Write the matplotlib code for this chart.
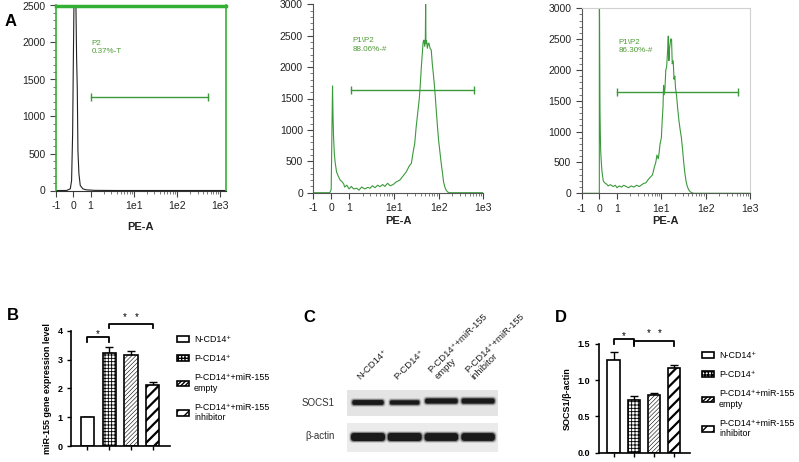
import numpy as np
import matplotlib
matplotlib.use("Agg")
import matplotlib.pyplot as plt
from matplotlib.patches import Patch, FancyBboxPatch, Rectangle
from matplotlib.ticker import MultipleLocator, FixedLocator

plt.rcParams['font.family'] = ['Liberation Sans', 'DejaVu Sans']

W, H = 799, 462

# ---------------- data ----------------
# PE-A axis positions: -1, 0, 1, 1e1, 1e2, 1e3
pe_ticks = [-0.4, 0.0, 0.4, 1.4, 2.4, 3.4]
pe_labels = ['-1', '0', '1', '1e1', '1e2', '1e3']

ctrl_x = [-0.4, -0.15, -0.124, -0.069, -0.039, -0.015, 0.0, 0.015, 0.039, 0.062,
          0.077, 0.093, 0.108, 0.131, 0.162, 0.224, 0.301, 0.5, 1.0, 3.53]
ctrl_y = [0, 0, 9, 22, 135, 763, 1660, 2470, 2490, 2480,
          1800, 1370, 535, 225, 67, 22, 9, 2, 0, 0]

p1_x = [-0.4, -0.03, 0.0, 0.015, 0.03, 0.04, 0.052, 0.07, 0.089, 0.12, 0.163, 0.2, 0.237,
        0.28, 0.3, 0.348, 0.4, 0.45, 0.5, 0.57, 0.62, 0.68, 0.75, 0.82, 0.867, 0.92,
        0.98, 1.04, 1.089, 1.15, 1.2, 1.26, 1.32, 1.385, 1.45, 1.533, 1.6, 1.681, 1.74,
        1.793, 1.83, 1.867, 1.9, 1.941, 1.97, 1.993, 2.015, 2.037, 2.055, 2.074, 2.09,
        2.104, 2.111, 2.118, 2.13, 2.15, 2.17, 2.185, 2.21, 2.237, 2.26, 2.289, 2.32,
        2.348, 2.375, 2.4, 2.43, 2.459, 2.49, 2.511, 2.54, 2.57, 2.6, 2.644, 3.4]
p1_y = [0, 0, 50, 900, 1700, 1250, 900, 620, 480, 330, 255, 200, 180,
        140, 90, 120, 60, 100, 60, 70, 40, 90, 60, 85, 70, 110,
        80, 120, 95, 130, 100, 150, 110, 130, 170, 200, 260, 335, 420,
        470, 640, 785, 1050, 1315, 1500, 1740, 2000, 2220, 2400, 2430, 2330,
        2400, 3000, 2380, 2420, 2300, 2380, 2380, 2300, 2270, 2050, 1850, 1600,
        1315, 1060, 840, 650, 470, 300, 175, 90, 40, 12, 0, 0]

p2_x = [-0.4, 0.0, 0.0, 0.004, 0.008, 0.015, 0.022, 0.03, 0.045, 0.06, 0.089, 0.12,
        0.163, 0.2, 0.25, 0.311, 0.36, 0.4, 0.45, 0.5, 0.55, 0.607, 0.66, 0.72, 0.78,
        0.84, 0.904, 0.96, 1.0, 1.052, 1.1, 1.15, 1.2, 1.24, 1.274, 1.3, 1.33, 1.348,
        1.37, 1.4, 1.42, 1.437, 1.45, 1.465, 1.481, 1.5, 1.519, 1.54, 1.556, 1.57,
        1.585, 1.61, 1.63, 1.645, 1.667, 1.685, 1.704, 1.72, 1.741, 1.765, 1.793,
        1.82, 1.852, 1.88, 1.904, 1.93, 1.956, 1.985, 2.015, 2.05, 2.089, 2.126, 3.4]
p2_y = [0, 0, 3000, 3000, 2350, 1350, 1000, 700, 500, 350, 200, 170,
        150, 120, 140, 110, 130, 90, 120, 100, 130, 110, 90, 120, 100,
        130, 110, 140, 160, 170, 220, 260, 300, 420, 500, 620, 560, 650,
        800, 900, 1200, 1400, 1750, 1600, 1700, 2000, 2050, 2300, 2550, 2150,
        2350, 2500, 2500, 2100, 2150, 1850, 1900, 1700, 1600, 1400, 1200,
        1050, 900, 700, 500, 330, 200, 110, 60, 25, 10, 0, 0]

gate_lo = [0.40, 0.444, 0.41]
gate_hi = [3.11, 3.185, 3.126]
gate_y = [1258, 1635, 1638]
gate_name = ['P2', 'P1\\P2', 'P1\\P2']
gate_pct = ['0.37%-T', '88.06%-#', '86.30%-#']
gate_label_y = [1930, 2350, 2380]

groups = ['N-CD14\u207a', 'P-CD14\u207a', 'P-CD14\u207a+miR-155\nempty',
          'P-CD14\u207a+miR-155\ninhibitor']
mir155 = [1.0, 3.23, 3.15, 2.10]
mir155_err = [0.0, 0.22, 0.15, 0.12]
socs1 = [1.28, 0.73, 0.80, 1.16]
socs1_err = [0.10, 0.055, 0.015, 0.045]

blot_lanes = ['N-CD14\u207a', 'P-CD14\u207a', 'P-CD14\u207a+miR-155\nempty',
              'P-CD14\u207a+miR-155\ninhibitor']
socs1_band = [0.78, 0.62, 0.88, 0.92]
actin_band = [1.0, 1.0, 0.95, 0.95]

# ---------------- figure ----------------
fig = plt.figure(figsize=(W / 100, H / 100), dpi=100)


def add_ax(left, top, right, bottom):
    return fig.add_axes([left / W, 1 - bottom / H, (right - left) / W, (bottom - top) / H])


GREEN = '#3a9a3a'
TXT_GREEN = '#4f9a35'
minor_x = [d + np.log10(k) for d in (0.4, 1.4, 2.4) for k in range(2, 10)]


def flow_axes(ax, x, y, color, ymax, gi, pad):
    ax.plot(x, y, color=color, lw=0.8)
    ax.set_ylim(0, ymax)
    ax.set_xticks(pe_ticks)
    ax.set_xticklabels(pe_labels)
    ax.xaxis.set_minor_locator(FixedLocator(minor_x))
    ax.yaxis.set_major_locator(MultipleLocator(500))
    ax.yaxis.set_minor_locator(MultipleLocator(100))
    ax.tick_params(which='major', labelsize=7.5, length=4, width=0.8, color='#444', labelcolor='#222')
    ax.tick_params(which='minor', length=2, width=0.6, color='#666')
    ax.set_xlabel('PE-A', fontsize=8, fontweight='bold', labelpad=pad, color='#222')
    ax.plot([gate_lo[gi], gate_hi[gi]], [gate_y[gi], gate_y[gi]], color=GREEN, lw=1.0,
            marker='|', markersize=6, markeredgewidth=1.0)
    ax.text(gate_lo[gi] + 0.03, gate_label_y[gi], gate_name[gi] + '\n' + gate_pct[gi],
            fontsize=5.8, color=TXT_GREEN, va='center', ha='left', linespacing=1.3)


ax1 = add_ax(56, 5.5, 225.7, 190.5)
flow_axes(ax1, ctrl_x, ctrl_y, '#222222', 2500, 0, 8)
ax1.set_xlim(-0.4, 3.53)
for s in ['left', 'right']:
    ax1.spines[s].set_color('#33b033')
    ax1.spines[s].set_linewidth(1.2)
ax1.spines['top'].set_color('#33b033')
ax1.spines['top'].set_linewidth(2.5)
ax1.spines['bottom'].set_color('#333')

ax2 = add_ax(313.3, 4.3, 483.3, 192.7)
flow_axes(ax2, p1_x, p1_y, GREEN, 3000, 1, 2)
ax2.set_xlim(-0.4, 3.4)
ax2.spines['top'].set_visible(False)
ax2.spines['right'].set_visible(False)
for s in ['left', 'bottom']:
    ax2.spines[s].set_color('#555')
    ax2.spines[s].set_linewidth(0.8)

ax3 = add_ax(581.6, 8.3, 750, 193.3)
flow_axes(ax3, p2_x, p2_y, GREEN, 3000, 2, 2)
ax3.set_xlim(-0.4, 3.4)
for s in ['top', 'right']:
    ax3.spines[s].set_color('#d0d0d0')
    ax3.spines[s].set_linewidth(0.8)
for s in ['left', 'bottom']:
    ax3.spines[s].set_color('#555')
    ax3.spines[s].set_linewidth(0.8)

# ---------------- bar panels ----------------
hatches = [None, '+++++', '////////', '///']
hatch_lw = [0.6, 0.6, 0.4, 1.6]


def bar_panel(ax, vals, errs, ymax, step, br1, br2, fmt):
    x = np.arange(len(vals))
    for i in range(len(vals)):
        with plt.rc_context({'hatch.linewidth': hatch_lw[i]}):
            ax.bar(x[i], vals[i], width=0.6, color='white', edgecolor='black',
                   linewidth=1.2, hatch=hatches[i], zorder=2)
    ax.errorbar(x, vals, yerr=[np.zeros(len(vals)), errs], fmt='none', ecolor='black',
                elinewidth=1.0, capsize=3, capthick=1.0, zorder=1)
    ax.set_ylim(0, ymax)
    ax.set_xlim(-0.72, 3.78)
    ax.set_xticks(x)
    ax.set_xticklabels([])
    ax.set_yticks(np.arange(0, ymax + step / 2, step))
    ax.yaxis.set_major_formatter(plt.FormatStrFormatter(fmt))
    ax.tick_params(labelsize=6.5, length=3, width=1.0)
    for t in ax.get_yticklabels():
        t.set_fontweight('bold')
    for s in ['top', 'right']:
        ax.spines[s].set_visible(False)
    for s in ['left', 'bottom']:
        ax.spines[s].set_linewidth(1.2)
    # significance brackets
    tops = np.array(vals) + np.array(errs)
    for (a, c, off, drop, stars) in [br1, br2]:
        yb = max(tops[a:c + 1]) + off
        ax.plot([a, a, c, c], [yb - drop, yb, yb, yb - drop], color='black', lw=1.3,
                clip_on=False)
        if stars == 1:
            ax.text((a + c) / 2, yb + drop * 0.6, '*', ha='center', va='center',
                    fontsize=7, clip_on=False)
        else:
            mid = (a + c) / 2
            for dx in (-0.27, 0.27):
                ax.text(mid + dx, yb + drop * 1.5, '*', ha='center', va='center',
                        fontsize=7, clip_on=False)


def legend_for(ax, anchor):
    handles = []
    for i in range(4):
        with plt.rc_context({'hatch.linewidth': hatch_lw[i]}):
            handles.append(Patch(facecolor='white', edgecolor='black', linewidth=1.2,
                                 hatch=hatches[i]))
    fig.legend(handles, groups, loc='upper left', bbox_to_anchor=anchor, frameon=False,
               fontsize=6.4, handlelength=1.3, handleheight=0.55, handletextpad=0.6,
               labelspacing=1.15, borderpad=0, borderaxespad=0)


axB = add_ax(71.4, 330.7, 170, 446)
bar_panel(axB, mir155, mir155_err, 4, 1, (0, 1, 0.32, 0.17, 1), (1, 3, 0.79, 0.15, 2), '%d')
axB.set_ylabel('miR-155 gene expression level', fontsize=6.5, fontweight='bold', labelpad=4)
legend_for(axB, (177 / W, 1 - 335 / H))

axD = add_ax(599, 343.7, 690, 452.7)
bar_panel(axD, socs1, socs1_err, 1.5, 0.5, (0, 1, 0.18, 0.065, 1), (1, 3, 0.33, 0.07, 2), '%.1f')
axD.set_ylabel('SOCS1/\u03b2-actin', fontsize=6.5, fontweight='bold', labelpad=4)
legend_for(axD, (702 / W, 1 - 351 / H))

# ---------------- western blot ----------------
axC = add_ax(300, 300, 510, 462)
axC.set_xlim(300, 510)
axC.set_ylim(462, 300)
axC.axis('off')
lane_x0, lane_dx = 368, 36.7
axC.add_patch(Rectangle((346.5, 390), 151.5, 26, color='#e4e4e4', lw=0))
axC.add_patch(Rectangle((346.5, 423), 151.5, 29, color='#ebebeb', lw=0))


def band(xc, yc, w, h):
    for grow, alpha in [(4, 0.15), (2, 0.4), (0, 0.95)]:
        hh = h + grow
        ww = w + grow
        axC.add_patch(FancyBboxPatch((xc - ww / 2, yc - hh / 2), ww, hh,
                                     boxstyle='round,pad=0,rounding_size=%.2f' % (hh / 2.5),
                                     color='#151515', alpha=alpha, lw=0))


for i, lv in enumerate(socs1_band):
    band(lane_x0 + i * lane_dx, 402.5 - 1.5 * (i >= 2), 22 + 12 * lv, 2.5 + 3 * lv)
for i, lv in enumerate(actin_band):
    band(lane_x0 + i * lane_dx, 437, 26 + 8 * lv, 4.5 + 3.5 * lv)

axC.text(335, 402.5, 'SOCS1', fontsize=7, ha='right', va='center', color='#333')
axC.text(335, 436, '\u03b2-actin', fontsize=7, ha='right', va='center', color='#333')
for i, name in enumerate(blot_lanes):
    axC.text(lane_x0 + i * lane_dx - 6 + 4 * (i >= 2), 381, name, fontsize=6.8, rotation=45,
             rotation_mode='anchor', ha='left', va='bottom', color='#222', linespacing=1.0)

# ---------------- panel letters ----------------
for lab, (px, py) in zip('ABCD', [(11, 21), (12.5, 316), (309, 318), (561, 318)]):
    fig.text(px / W, 1 - py / H, lab, fontsize=12, fontweight='bold', ha='center', va='center')

fig.savefig('out.png', dpi=100)
